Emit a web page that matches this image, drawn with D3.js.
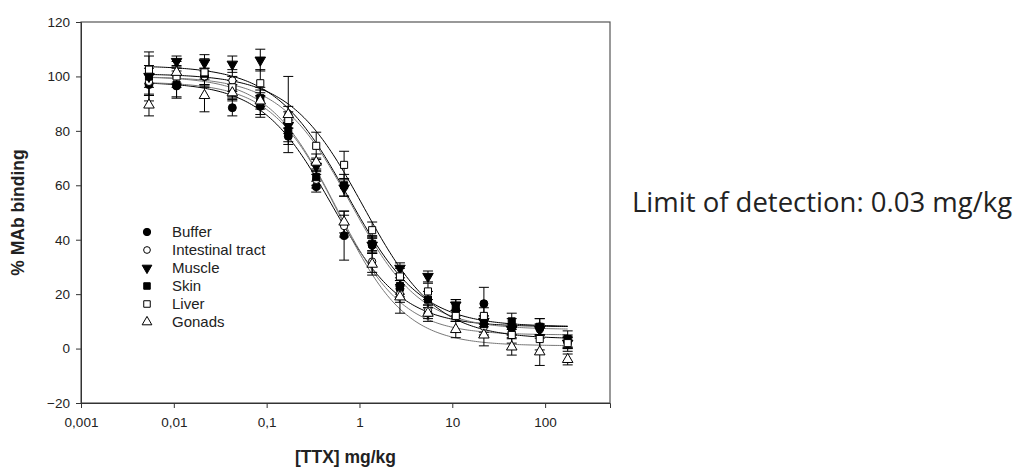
<!DOCTYPE html>
<html lang="en">
<head>
    <meta charset="UTF-8">
    <title>MAb binding vs TTX</title>
    <script src="https://d3js.org/d3.v7.min.js"></script>
    <style>
        body { margin: 0; background: #fff; }
        .tick text { font-family: "Liberation Sans", Arial, sans-serif; font-size: 13.5px; fill: #222; }
        .axis-title { font-family: "Liberation Sans", Arial, sans-serif; font-size: 17.5px; font-weight: bold; fill: #222; }
        .legend text { font-family: "Liberation Sans", Arial, sans-serif; font-size: 15px; fill: #222; }
    </style>
</head>
<body>
    <svg id="chart" width="1021" height="468"></svg>
    <script>
        // doses (mg/kg)
        const conc = [0.0054, 0.0107, 0.0214, 0.0427, 0.0854, 0.171, 0.342, 0.683, 1.37, 2.73, 5.47, 10.9, 21.9, 43.7, 87.5, 175];

        const seriesNames = ['Buffer', 'Intestinal tract', 'Muscle', 'Skin', 'Liver', 'Gonads'];

        const buffer     = [97, 96.5, 100, 88.5, 89, 78, 59.5, 41.5, 38, 22, 13, 14, 16.5, 8, 8, 2.5];
        const intestinal = [98, 100, 100, 98.5, 91, 86, 62, 45, 32, 20, 14, 12, 8, 6, 7, 2];
        const muscle     = [100, 105.5, 105, 104.5, 106, 82, 67, 59, 38, 29.5, 26.5, 16, 10, 7, 7, 2];
        const skin       = [100, 97, 101, 95.5, 92, 80, 63, 60, 38.5, 23, 18, 15, 9, 10, 8, 3.5];
        const liver      = [102.5, 100, 101.5, 96, 97.5, 84, 74.5, 67.5, 43.5, 26.5, 21, 12, 12, 5, 3.5, 2];
        const gonads     = [89.5, 101.5, 93, 94, 91, 86, 68.5, 46.5, 31, 19, 13, 7, 5, 0.6, -1.2, -4];

        // standard deviations
        const bufferSd     = [4, 4, 3, 3, 4, 3, 2, 9, 3, 3, 2, 3, 6, 3, 3, 2];
        const intestinalSd = [5, 4, 3, 4, 3, 14, 3, 4, 4, 3, 2, 2, 3, 2, 2, 2];
        const muscleSd     = [9, 2, 3, 3, 4, 3, 3, 3, 3, 2, 2, 2, 2, 2, 2, 2];
        const skinSd       = [4, 5, 5, 3, 3, 4, 3, 4, 3, 3, 3, 3, 3, 3, 3, 3];
        const liverSd      = [5, 3, 5, 4, 5, 3, 5, 5, 3, 3, 3, 2, 3, 3, 4, 3];
        const gonadsSd     = [4, 4, 6, 3, 5, 3, 3, 4, 4, 6, 3, 3, 4, 3, 5, 2];

        // 4-parameter logistic fit: top, bottom, IC50, hill
        const fitTop    = [98, 100, 104, 100, 101, 98];
        const fitBottom = [8, 5, 8, 7, 3.5, 1];
        const fitIC50   = [0.5, 0.55, 0.75, 0.8, 1.1, 0.6];
        const fitHill   = [1.15, 1.2, 1.1, 1.15, 1.1, 1.2];

        const xTicks = [0.001, 0.01, 0.1, 1, 10, 100];
        const xTickLabels = ['0,001', '0,01', '0,1', '1', '10', '100'];
        const yTicks = [-20, 0, 20, 40, 60, 80, 100, 120];

        const values = [buffer, intestinal, muscle, skin, liver, gonads];
        const sds = [bufferSd, intestinalSd, muscleSd, skinSd, liverSd, gonadsSd];

        // marker styles
        const markers = [
            { type: d3.symbolCircle, size: 50, fill: '#000', rot: 0 },
            { type: d3.symbolCircle, size: 42, fill: '#fff', rot: 0 },
            { type: d3.symbolTriangle, size: 48, fill: '#000', rot: 180 },
            { type: d3.symbolSquare, size: 50, fill: '#000', rot: 0 },
            { type: d3.symbolSquare, size: 50, fill: '#fff', rot: 0 },
            { type: d3.symbolTriangle, size: 48, fill: '#fff', rot: 0 }
        ];
        const lineColors = ['#000', '#777', '#000', '#777', '#000', '#777'];

        const svg = d3.select('#chart');
        const margin = { left: 81, top: 22, right: 411, bottom: 65 };
        const width = 1021, height = 468;

        const x = d3.scaleLog().domain([0.001, 500]).range([margin.left, width - margin.right]);
        const y = d3.scaleLinear().domain([-20, 120]).range([height - margin.bottom, margin.top]);

        // frame
        svg.append('rect')
            .attr('x', x.range()[0]).attr('y', margin.top)
            .attr('width', x.range()[1] - x.range()[0])
            .attr('height', y.range()[0] - margin.top)
            .attr('fill', 'none').attr('stroke', '#555').attr('stroke-width', 1.2);

        svg.append('g')
            .attr('transform', `translate(0,${y.range()[0]})`)
            .call(d3.axisBottom(x).tickValues(xTicks).tickFormat((d, i) => xTickLabels[i]).tickSize(5).tickPadding(9))
            .call(g => g.select('.domain').attr('stroke', '#333'))
            .call(g => g.selectAll('.tick line').attr('stroke', '#333'));

        svg.append('g')
            .attr('transform', `translate(${x.range()[0]},0)`)
            .call(d3.axisLeft(y).tickValues(yTicks).tickSize(5).tickPadding(6))
            .call(g => g.select('.domain').attr('stroke', '#333'))
            .call(g => g.selectAll('.tick line').attr('stroke', '#333'));

        svg.append('text')
            .attr('class', 'axis-title')
            .attr('transform', `translate(24,${(y(120) + y(-20)) / 2}) rotate(-90)`)
            .attr('text-anchor', 'middle')
            .text('% MAb binding');

        svg.append('text')
            .attr('class', 'axis-title')
            .attr('x', (x.range()[0] + x.range()[1]) / 2)
            .attr('y', 463)
            .attr('text-anchor', 'middle')
            .text('[TTX] mg/kg');

        // fitted curves
        const curveX = d3.range(0, 201).map(i => Math.exp(Math.log(conc[0]) + i / 200 * (Math.log(conc[conc.length - 1]) - Math.log(conc[0]))));
        const line = d3.line().x(d => x(d[0])).y(d => y(d[1]));
        seriesNames.forEach((name, s) => {
            const pts = curveX.map(c => [c, fitBottom[s] + (fitTop[s] - fitBottom[s]) / (1 + Math.pow(c / fitIC50[s], fitHill[s]))]);
            svg.append('path')
                .attr('d', line(pts))
                .attr('fill', 'none')
                .attr('stroke', lineColors[s])
                .attr('stroke-width', 1);
        });

        // error bars
        seriesNames.forEach((name, s) => {
            const g = svg.append('g').attr('stroke', '#000').attr('stroke-width', 1);
            conc.forEach((c, i) => {
                const cx = x(c);
                const top = y(values[s][i] + sds[s][i]);
                const bot = y(values[s][i] - sds[s][i]);
                g.append('line').attr('x1', cx).attr('x2', cx).attr('y1', top).attr('y2', bot);
                g.append('line').attr('x1', cx - 5).attr('x2', cx + 5).attr('y1', top).attr('y2', top);
                g.append('line').attr('x1', cx - 5).attr('x2', cx + 5).attr('y1', bot).attr('y2', bot);
            });
        });

        // points
        seriesNames.forEach((name, s) => {
            const m = markers[s];
            const sym = d3.symbol().type(m.type).size(m.size);
            svg.append('g').selectAll('path')
                .data(conc.map((c, i) => [c, values[s][i]]))
                .join('path')
                .attr('d', sym)
                .attr('transform', d => `translate(${x(d[0])},${y(d[1])}) rotate(${m.rot})`)
                .attr('fill', m.fill)
                .attr('stroke', '#000')
                .attr('stroke-width', 1);
        });

        // legend
        const legend = svg.append('g').attr('class', 'legend');
        seriesNames.forEach((name, s) => {
            const m = markers[s];
            const ly = 232 + s * 18;
            legend.append('path')
                .attr('d', d3.symbol().type(m.type).size(m.size * 0.85)())
                .attr('transform', `translate(147,${ly}) rotate(${m.rot})`)
                .attr('fill', m.fill)
                .attr('stroke', '#000');
            legend.append('text')
                .attr('x', 172).attr('y', ly)
                .attr('dy', '0.35em')
                .text(name);
        });

        svg.append('text')
            .attr('x', 632).attr('y', 202)
            .attr('dy', '0.35em')
            .attr('font-family', '"Open Sans", sans-serif')
            .attr('font-size', '27.5px')
            .attr('fill', '#222')
            .text('Limit of detection: 0.03 mg/kg');
    </script>
</body>
</html>
